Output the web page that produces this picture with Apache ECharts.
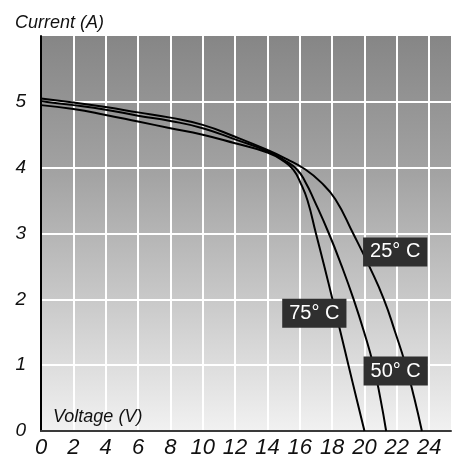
<!DOCTYPE html>
<html>
<head>
<meta charset="utf-8">
<title>I-V curves</title>
<script src="https://cdn.jsdelivr.net/npm/echarts@6/dist/echarts.min.js"></script>
<style>
  html, body { margin: 0; padding: 0; background: #ffffff; }
  #chart { width: 454px; height: 459px; }
</style>
</head>
<body>
<div id="chart"></div>
<script>
// Axis ticks
const voltageTicks = [0, 2, 4, 6, 8, 10, 12, 14, 16, 18, 20, 22, 24];
const currentTicks = [0, 1, 2, 3, 4, 5];

// I-V curves: [voltage (V), current (A)]
const curve25 = [
  [0, 5.05], [2, 4.99], [4, 4.92], [6, 4.84], [8, 4.76], [10, 4.65],
  [12, 4.47], [14, 4.27], [15.2, 4.13], [16.3, 3.98], [17.3, 3.78],
  [18.2, 3.52], [19.3, 3.0], [20.3, 2.5], [21.2, 2.0], [21.9, 1.5],
  [22.55, 1.0], [23.08, 0.5], [23.55, 0]
];
const curve50 = [
  [0, 5.01], [2, 4.95], [4, 4.88], [6, 4.79], [8, 4.71], [10, 4.6],
  [12, 4.43], [14, 4.25], [15.0, 4.12], [15.8, 3.98], [16.35, 3.78],
  [16.9, 3.5], [17.8, 3.0], [18.6, 2.5], [19.33, 2.0], [19.98, 1.5],
  [20.55, 1.0], [20.98, 0.5], [21.34, 0]
];
const curve75 = [
  [0, 4.95], [2, 4.89], [4, 4.8], [6, 4.7], [8, 4.6], [10, 4.5],
  [12, 4.37], [14, 4.23], [15.0, 4.1], [15.6, 3.97], [16.08, 3.75],
  [16.48, 3.5], [17.0, 3.0], [17.52, 2.5], [18.02, 2.0], [18.52, 1.5],
  [19.01, 1.0], [19.5, 0.5], [20.0, 0]
];

// Temperature tags and the points (V, A) they sit on
const tempNames = ['25° C', '50° C', '75° C'];
const tagVoltage = [21.9, 21.93, 16.9];
const tagCurrent = [2.72, 0.91, 1.79];

const FONT = '"Liberation Sans", Arial, Helvetica, sans-serif';

const chart = echarts.init(document.getElementById('chart'), null, { renderer: 'canvas' });

function curveSeries(name, data) {
  return {
    name: name,
    type: 'line',
    data: data,
    symbol: 'none',
    smooth: 0.5,
    lineStyle: { color: '#000000', width: 2 },
    z: 3,
    silent: true
  };
}

const option = {
  animation: false,
  title: [
    {
      text: 'Current (A)',
      left: 10, top: 9,
      textStyle: { fontFamily: FONT, fontStyle: 'italic', fontWeight: 'normal', fontSize: 18, color: '#111' }
    },
    {
      text: 'Voltage (V)',
      left: 48, top: 403,
      textStyle: { fontFamily: FONT, fontStyle: 'italic', fontWeight: 'normal', fontSize: 18, color: '#111' }
    }
  ],
  grid: {
    left: 41, right: 0, top: 36, bottom: 28,
    show: true,
    borderWidth: 0,
    backgroundColor: new echarts.graphic.LinearGradient(0, 0, 0, 1, [
      { offset: 0, color: '#868686' },
      { offset: 0.35, color: '#a3a3a3' },
      { offset: 0.67, color: '#c9c9c9' },
      { offset: 1, color: '#f1f1f1' }
    ])
  },
  xAxis: {
    type: 'value',
    min: 0,
    max: 25.35,
    interval: 2,
    axisLine: { show: true, lineStyle: { color: '#3a3a3a', width: 2 } },
    axisTick: { show: false },
    splitLine: { show: true, showMinLine: false, showMaxLine: false, lineStyle: { color: '#ffffff', width: 2 } },
    axisLabel: {
      margin: 6,
      fontFamily: FONT, fontStyle: 'italic', fontSize: 22, color: '#111',
      formatter: v => (voltageTicks.indexOf(v) >= 0 ? String(v) : '')
    }
  },
  yAxis: {
    type: 'value',
    min: 0,
    max: 6,
    interval: 1,
    axisLine: { show: true, lineStyle: { color: '#000000', width: 2 } },
    axisTick: { show: false },
    splitLine: { show: true, showMinLine: false, showMaxLine: false, lineStyle: { color: '#ffffff', width: 2 } },
    axisLabel: {
      margin: 15,
      fontFamily: FONT, fontStyle: 'italic', fontSize: 19, color: '#111',
      formatter: v => (currentTicks.indexOf(v) >= 0 ? String(v) : '')
    }
  },
  series: [
    curveSeries('25° C', curve25),
    curveSeries('50° C', curve50),
    curveSeries('75° C', curve75),
    {
      name: 'tags',
      type: 'scatter',
      symbolSize: 0,
      silent: true,
      z: 5,
      itemStyle: { opacity: 1 },
      data: tempNames.map((t, i) => ({ value: [tagVoltage[i], tagCurrent[i]], name: t })),
      label: {
        show: true,
        position: 'inside',
        formatter: p => p.name,
        fontFamily: FONT,
        fontSize: 20,
        color: '#ffffff',
        opacity: 1,
        backgroundColor: '#2f2f2f',
        padding: [5, 7, 4, 7]
      }
    }
  ]
};

chart.setOption(option);
</script>
</body>
</html>
